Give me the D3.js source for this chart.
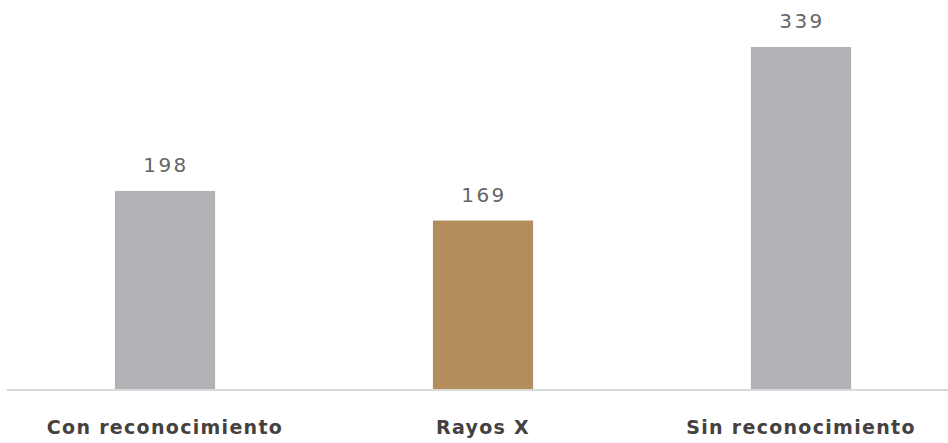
<!DOCTYPE html>
<html>
<head>
<meta charset="utf-8">
<script src="https://cdn.jsdelivr.net/npm/d3@7/dist/d3.min.js"></script>
<style>
  body { margin: 0; background: #fff; }
</style>
</head>
<body>
<script>
// chart data
var categories = ["Con reconocimiento", "Rayos X", "Sin reconocimiento"];
var values = [198, 169, 339];
var barColors = ["#b1b2b6", "#b38d5c", "#b1b2b6"];

var width = 948, height = 443,
    baseline = 389;

var svg = d3.select("body").append("svg")
    .attr("width", width)
    .attr("height", height);

// band scale runs a bit past the right edge, like the original
var x = d3.scaleBand()
    .domain(categories)
    .range([6, 960])
    .paddingInner(0.685)
    .paddingOuter(0.3425);

// the original axis does not quite start at zero
var y = d3.scaleLinear()
    .domain([4, 339])
    .range([baseline, 47]);

// bars
svg.selectAll("rect.bar")
    .data(values)
    .enter().append("rect")
    .attr("class", "bar")
    .attr("x", function(d, i) { return x(categories[i]); })
    .attr("y", function(d) { return y(d); })
    .attr("width", x.bandwidth())
    .attr("height", function(d) { return baseline - y(d); })
    .attr("fill", function(d, i) { return barColors[i]; });

// value labels
svg.selectAll("text.val")
    .data(values)
    .enter().append("text")
    .attr("class", "val")
    .attr("x", function(d, i) { return x(categories[i]) + x.bandwidth() / 2 + 1; })
    .attr("y", function(d) { return y(d) - 19; })
    .attr("text-anchor", "middle")
    .attr("font-family", "DejaVu Sans")
    .attr("font-size", 20)
    .attr("letter-spacing", 2.5)
    .attr("fill", "#666")
    .text(function(d) { return d; });

// axis line
svg.append("line")
    .attr("x1", 7).attr("x2", width)
    .attr("y1", baseline + 1).attr("y2", baseline + 1)
    .attr("stroke", "#d9d9d9")
    .attr("stroke-width", 2);

// category labels
var axis = d3.axisBottom(x).tickSize(0).tickPadding(32);
var g = svg.append("g")
    .attr("transform", "translate(0," + baseline + ")")
    .call(axis);
g.select(".domain").remove();
g.selectAll("text")
    .attr("font-family", "DejaVu Sans")
    .attr("font-weight", "bold")
    .attr("font-size", 19)
    .attr("letter-spacing", 1.3)
    .attr("fill", "#454140");
</script>
</body>
</html>
